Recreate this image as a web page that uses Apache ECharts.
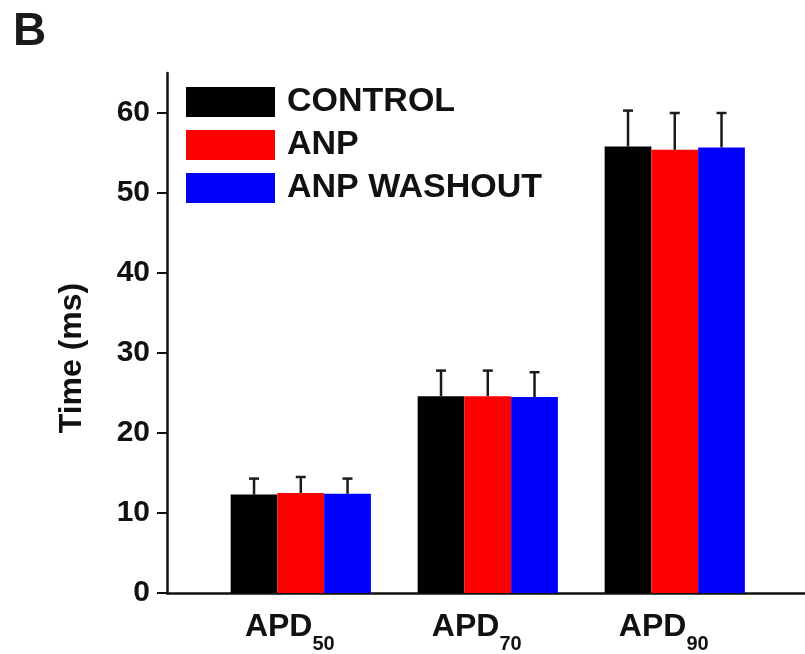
<!DOCTYPE html>
<html>
<head>
<meta charset="utf-8">
<script src="https://cdn.jsdelivr.net/npm/echarts@6/dist/echarts.min.js"></script>
<style>html,body{margin:0;padding:0;background:#fff}#c{width:805px;height:654px}</style>
</head>
<body>
<div id="c"></div>
<script>
const categories = ['APD', 'APD', 'APD'];
const subscripts = ['50', '70', '90'];
const seriesNames = ['CONTROL', 'ANP', 'ANP WASHOUT'];
const controlMean = [12.3, 24.6, 55.8];
const controlSD = [2.0, 3.2, 4.5];
const anpMean = [12.5, 24.6, 55.4];
const anpSD = [2.0, 3.2, 4.6];
const washoutMean = [12.4, 24.5, 55.7];
const washoutSD = [1.9, 3.1, 4.3];
const yTicks = [0, 10, 20, 30, 40, 50, 60];
const colors = ['#000000', '#ff0000', '#0000ff'];

const means = [controlMean, anpMean, washoutMean];
const sds = [controlSD, anpSD, washoutSD];
const catPos = categories.map((c, i) => i + 1);
const BAR_W = 46.75;
const FONT = '"Liberation Sans", Arial, Helvetica, sans-serif';

const series = [];
means.forEach((m, si) => {
  series.push({
    name: seriesNames[si],
    type: 'bar',
    barWidth: BAR_W,
    barGap: '0%',
    itemStyle: { color: colors[si] },
    data: m.map((v, i) => [catPos[i], v]),
    z: 2
  });
});
means.forEach((m, si) => {
  series.push({
    type: 'custom',
    silent: true,
    z: 3,
    data: m.map((v, i) => [catPos[i], v, sds[si][i]]),
    renderItem: function (params, api) {
      const x = api.value(0), mean = api.value(1), sd = api.value(2);
      const base = api.coord([x, mean]);
      const top = api.coord([x, mean + sd]);
      const cx = base[0] + (si - 1) * BAR_W;
      const half = 5;
      const style = { stroke: '#1a1a1a', lineWidth: 2.5, fill: null };
      return {
        type: 'group',
        children: [
          { type: 'line', shape: { x1: cx, y1: base[1], x2: cx, y2: top[1] }, style: style },
          { type: 'line', shape: { x1: cx - half, y1: top[1], x2: cx + half, y2: top[1] }, style: style }
        ]
      };
    }
  });
});

const chart = echarts.init(document.getElementById('c'), null, { renderer: 'canvas' });
chart.setOption({
  backgroundColor: '#ffffff',
  animation: false,
  textStyle: { fontFamily: FONT },
  title: {
    text: 'B', left: 8, top: 4,
    textStyle: { fontSize: 46, fontWeight: 'bold', color: '#1a1a1a', fontFamily: FONT }
  },
  legend: {
    orient: 'vertical',
    left: 181, top: 80,
    itemWidth: 89, itemHeight: 30, itemGap: 9,
    icon: 'rect',
    data: seriesNames,
    textStyle: { fontSize: 34, fontWeight: 'bold', color: '#111', fontFamily: FONT, lineHeight: 30, padding: [0, 0, 0, 7] }
  },
  grid: { left: 167, right: 0, top: 73, bottom: 60, containLabel: false },
  xAxis: {
    type: 'value',
    min: 0.2845, max: 3.6965,
    axisLine: { show: true, onZero: false, lineStyle: { color: '#111', width: 2.5 } },
    axisTick: { show: false },
    splitLine: { show: false },
    axisLabel: {
      customValues: catPos,
      margin: 7,
      formatter: function (v) {
        const i = Math.round(v) - 1;
        return '{m|' + categories[i] + '}{s|' + subscripts[i] + '}';
      },
      rich: {
        m: { fontSize: 32, fontWeight: 'bold', color: '#111', fontFamily: FONT, lineHeight: 54, verticalAlign: 'middle' },
        s: { fontSize: 20, fontWeight: 'bold', color: '#111', fontFamily: FONT, lineHeight: 54, verticalAlign: 'bottom', padding: [0, 22, 0, 0] }
      }
    }
  },
  yAxis: {
    type: 'value',
    min: 0, max: 65, interval: 10,
    name: 'Time (ms)',
    nameLocation: 'middle',
    nameGap: 79,
    nameTextStyle: { fontSize: 32, fontWeight: 'bold', color: '#111', fontFamily: FONT, padding: [0, 50, 0, 0] },
    axisLine: { show: true, lineStyle: { color: '#111', width: 2.5 } },
    axisTick: { show: true, inside: false, length: 10, customValues: yTicks, lineStyle: { color: '#111', width: 2 } },
    splitLine: { show: false },
    axisLabel: { customValues: yTicks, margin: 17, fontSize: 30, fontWeight: 'bold', color: '#111', fontFamily: FONT }
  },
  series: series
});
</script>
</body>
</html>
